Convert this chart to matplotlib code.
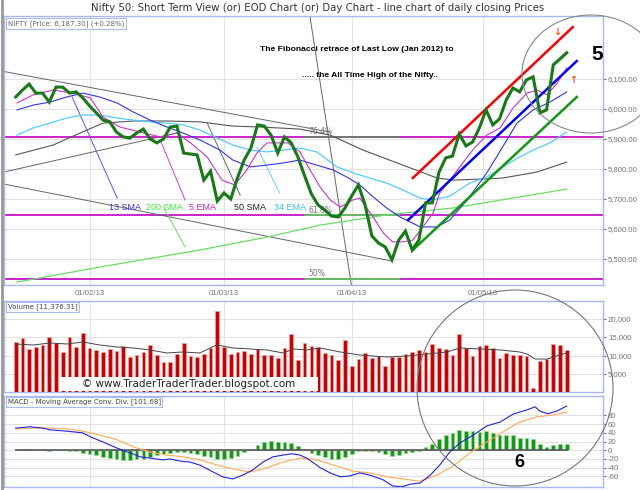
import matplotlib
matplotlib.use('Agg')
import matplotlib.pyplot as plt
from matplotlib.patches import Ellipse, Rectangle
from matplotlib.ticker import FixedLocator, FuncFormatter

# ---------------- data ----------------
close = [6040, 6063, 6083, 6053, 6053, 6023, 6073, 6073, 6053, 6057,
         6037, 6010, 5987, 5963, 5957, 5923, 5907, 5903, 5920, 5933,
         5900, 5887, 5900, 5940, 5943, 5853, 5850, 5847, 5763, 5793,
         5693, 5720, 5700, 5770, 5830, 5870, 5947, 5943, 5913, 5853,
         5907, 5887, 5840, 5777, 5717, 5680, 5663, 5643, 5640, 5670,
         5710, 5747, 5680, 5577, 5553, 5540, 5497, 5563, 5593, 5530,
         5563, 5687, 5687, 5790, 5837, 5843, 5917, 5877, 5890, 5937,
         5997, 5947, 5967, 6030, 6070, 6057, 6097, 6107, 5987, 5997,
         6147, 6167, 6187.3]

volume = [13730, 14810, 11760, 12380, 12840, 15080, 13300, 11030, 15080, 12300,
          16160, 12110, 11490, 11030, 11760, 11300, 12650, 9590, 10140, 11030,
          12840, 10140, 8240, 8240, 10320, 13380, 9950, 9680, 10490, 12110,
          22110, 12300, 10490, 10950, 11300, 10320, 11680, 10140, 10140, 9410,
          12110, 15730, 8780, 13380, 12480, 12300, 10590, 10140, 8780, 14190,
          7250, 9050, 10590, 9410, 9780, 7250, 9590, 9680, 10490, 11030,
          11490, 10860, 13200, 11940, 11760, 10140, 15730, 11940, 9780, 12650,
          12840, 11940, 9240, 10680, 10140, 10140, 9780, 1130, 8510, 8970,
          13030, 12840, 11490]

vol_ma_x = [0.0, 2.6, 5.1, 7.6, 10.0, 12.5, 15.1, 17.5, 20.0, 22.5, 24.9, 27.4,
            29.9, 32.3, 34.9, 37.4, 39.8, 41.3, 43.3, 45.3, 48.3, 51.2, 55.2,
            58.2, 61.2, 64.2, 66.1, 69.1, 72.1, 75.0, 76.1, 77.3, 79.1, 80.5, 82.0]
vol_ma = [13110, 12840, 13380, 13110, 13650, 12840, 12300, 12030, 11490, 10680, 10950, 10680,
          12840, 12030, 11760, 11490, 10680, 11760, 11490, 12030, 10950, 10140, 9590,
          9870, 10410, 10950, 12030, 11760, 11490, 10950, 10410, 9050, 9050, 9870, 10680]

macd_hist = [0, 2.3, 3.1, 0.8, 0, -1.5, 0, 0, -1.5, -1.5,
             -5.4, -7.7, -11.5, -15.3, -16.9, -19.2, -21.4, -23, -19.2, -19.2,
             -15.3, -11.5, -7.7, -6.1, -4.6, -4.6, -6.1, -7.7, -12.3, -15.3,
             -19.2, -19.2, -16.9, -12.3, -4.6, 2.3, 11.5, 19.9, 21.4, 19.2,
             19.2, 16.9, 9.2, 2.3, -5.4, -10, -15.3, -19.2, -19.2, -15.3,
             -9.2, -1.5, -1.5, -1.5, -4.6, -9.2, -13.8, -11.5, -6.1, -4.6,
             -2.3, 7.7, 13.8, 25.3, 34.5, 40.6, 46, 44.4, 44.4, 42.1,
             44.4, 39.8, 36, 36, 34.5, 29.1, 28.3, 26.8, 13.8, 7.7,
             11.5, 13.8, 13.8]

macd_x = [0.0, 2.1, 4.1, 5.1, 7.6, 10.0, 11.1, 13.0, 15.1, 17.0, 18.5, 20.0, 21.9, 23.0,
          24.5, 25.9, 27.4, 29.4, 30.8, 32.3, 33.8, 35.3, 36.8, 38.3, 39.8, 41.1, 42.3,
          43.3, 44.8, 45.3, 46.8, 48.3, 49.7, 51.2, 52.7, 54.7, 56.1, 57.5, 58.7, 60.2,
          61.7, 63.1, 64.6, 66.1, 68.1, 70.1, 72.1, 74.0, 76.1, 77.3, 78.0, 79.2, 80.5, 82.0]
macd_line = [51, 54, 51, 47, 44, 40, 31, 19, 5, -6, -15, -18, -22, -20,
             -25, -27, -34, -50, -61, -66, -57, -45, -27, -15, -11, -8, -11,
             -18, -34, -40, -52, -61, -59, -52, -57, -68, -82, -84, -78, -75,
             -57, -34, -4, 17, 35, 56, 65, 83, 93, 100, 90, 84, 90, 101.68]

sig_x = [0.0, 2.6, 5.1, 7.6, 10.0, 12.5, 15.1, 17.5, 20.0, 22.5, 24.9, 27.4, 30.0,
         32.3, 34.9, 37.4, 39.8, 42.3, 44.8, 50.2, 52.7, 55.2, 57.6, 60.2, 62.7,
         65.1, 67.6, 70.1, 72.5, 74.7, 77.6, 79.9, 82.0]
sig_line = [49, 51, 51, 49, 44, 35, 24, 8, -4, -11, -15, -22, -34,
            -43, -50, -40, -27, -18, -22, -48, -52, -61, -66, -71, -57,
            -36, -6, 19, 42, 63, 77, 81, 88]

ema5_x = [0.2, 2.6, 5.6, 8.5, 11.1, 13.0, 15.5, 18.5, 21.5, 24.0, 26.4, 28.5, 30.7, 32.6,
          34.4, 35.9, 37.4, 40.5, 42.3, 43.8, 45.3, 46.8, 48.3, 50.2, 51.2, 53.2, 54.7,
          56.1, 57.6, 59.1, 60.6, 62.1, 63.1, 64.6, 66.1, 68.0, 70.1, 72.1, 74.0, 76.1,
          77.6, 79.1, 80.6, 82.0]
ema5 = [6020, 6047, 6063, 6053, 6037, 5973, 5940, 5923, 5907, 5920, 5880, 5840, 5763, 5747,
        5797, 5853, 5887, 5887, 5857, 5797, 5740, 5697, 5673, 5697, 5703, 5640, 5587,
        5557, 5557, 5563, 5607, 5653, 5720, 5763, 5807, 5863, 5913, 5937, 6003, 6053,
        6063, 6047, 6087, 6137]

sma13_x = [0.2, 2.6, 5.1, 7.6, 10.0, 12.5, 15.1, 17.5, 20.0, 22.5, 24.9, 27.4, 30.4, 32.3,
           34.9, 37.4, 39.8, 42.3, 44.8, 47.2, 49.3, 51.2, 53.2, 55.2, 57.2, 60.2, 62.7,
           64.6, 67.2, 70.1, 72.1, 74.6, 77.0, 79.5, 82.0]
sma13 = [5997, 6013, 6023, 6040, 6053, 6040, 6020, 5990, 5963, 5940, 5920, 5897, 5863, 5830,
         5807, 5813, 5820, 5830, 5813, 5797, 5773, 5747, 5707, 5670, 5640, 5607, 5607,
         5630, 5697, 5787, 5860, 5953, 5997, 6023, 6057]

ema34_x = [0.2, 2.6, 5.1, 7.6, 10.0, 12.5, 15.1, 17.5, 20.0, 22.5, 24.9, 27.4, 30.0, 32.3,
           34.9, 37.4, 39.8, 42.3, 44.8, 47.8, 50.2, 52.7, 55.2, 57.6, 60.2, 62.1, 64.6,
           67.6, 70.1, 72.5, 75.0, 77.0, 79.5, 82.0]
ema34 = [5913, 5937, 5953, 5970, 5980, 5980, 5970, 5963, 5957, 5953, 5947, 5930, 5903, 5880,
         5863, 5857, 5863, 5870, 5857, 5807, 5787, 5770, 5753, 5730, 5703, 5697, 5710,
         5753, 5773, 5807, 5840, 5863, 5887, 5923]

sma50_x = [0.0, 5.6, 9.6, 13.0, 17.5, 22.5, 27.4, 32.3, 36.4, 42.3, 46.8, 51.7, 57.6,
           62.7, 65.1, 70.1, 72.5, 77.6, 82.0]
sma50 = [5847, 5880, 5920, 5953, 5960, 5960, 5957, 5943, 5940, 5933, 5913, 5863, 5813,
         5770, 5763, 5767, 5770, 5790, 5823]

sma200_x = [0.2, 12.5, 27.4, 37.4, 45.3, 55.2, 65.1, 75.0, 82.0]
sma200 = [5423, 5473, 5530, 5573, 5613, 5647, 5670, 5707, 5733]

fib_levels = [5907, 5645, 5433]
fib_names = ['76.4%', '61.8%', '50%']

date_pos = [11, 31, 50, 69.5]
date_labels = ['01/02/13', '01/03/13', '01/04/13', '01/05/13']

# drawn trend / channel lines: ([x0, x1], [y0, y1])
trend_gray = [([-1.74, 46.8], [6125, 5923]),
              ([-1.74, 24.0], [5790, 5920]),
              ([-1.74, 56.0], [5750, 5493]),
              ([43.8, 50.0], [6307, 5407])]
chan_red = ([59.1, 82.9], [5770, 6273])
chan_blue = ([58.4, 83.5], [5630, 6160])
chan_green = ([59.1, 83.5], [5530, 6040])

ma_labels = ['13 SMA', '200 SMA', '5 EMA', '50 SMA', '34 EMA']
ma_label_x = [16.2, 22.1, 27.8, 34.9, 40.8]
ma_label_colors = ['#3333ee', '#33ee33', '#cc22cc', '#222222', '#33bbff']
pointer_lines = [([8.4, 15.1], [6040, 5703], '#5555ff'),
                 ([22.0, 25.2], [5673, 5540], '#66dd66'),
                 ([21.5, 25.2], [5897, 5697], '#cc44cc'),
                 ([28.5, 33.4], [5953, 5713], '#666666'),
                 ([35.9, 39.3], [5873, 5720], '#66ccff')]

# ---------------- figure ----------------
W, H = 640, 490
fig = plt.figure(figsize=(6.4, 4.9), dpi=100)
fig.patch.set_facecolor('white')

def fr(x0, y0, x1, y1):
    return [x0 / W, 1 - y1 / H, (x1 - x0) / W, (y1 - y0) / H]

ax = fig.add_axes(fr(4, 16, 603, 285))
axv = fig.add_axes(fr(4, 301, 603, 392.5))
axm = fig.add_axes(fr(4, 396, 603, 487))

XL = (-1.74, 87.4)
idx = list(range(len(close)))

for a in (ax, axv, axm):
    a.set_xlim(*XL)
    for s in a.spines.values():
        s.set_color('#a8b8ee')
        s.set_linewidth(1)
    a.yaxis.tick_right()
    a.tick_params(axis='y', which='both', length=2, colors='#777777', labelsize=5.6, pad=1.5,
                  labelfontfamily='Liberation Sans')
    a.tick_params(axis='x', length=0, colors='#777777', labelsize=5.6,
                  labelfontfamily='Liberation Sans')
    a.xaxis.set_major_locator(FixedLocator(date_pos))
    a.grid(True, color='#e2e2e2', lw=0.8)
    a.set_axisbelow(True)

ax.set_xticklabels(date_labels)
axv.set_xticklabels([])
axm.set_xticklabels([])

# ---- main price panel ----
ax.set_ylim(5413.3, 6310)
ax.yaxis.set_major_locator(FixedLocator([5500, 5600, 5700, 5800, 5900, 6000, 6100]))
ax.yaxis.set_major_formatter(FuncFormatter(lambda v, p: f"{v:,.2f}"))

for lv in fib_levels:
    ax.axhline(lv, color='#cc22cc', lw=1.4, zorder=2)
ax.plot([43.1, 57.0], [fib_levels[0], fib_levels[0]], color='#777777', lw=1.4, zorder=2.1)
ax.plot([43.1, 57.0], [fib_levels[1], fib_levels[1]], color='#66bb66', lw=1.4, zorder=2.1)
ax.plot([43.1, 57.0], [fib_levels[2], fib_levels[2]], color='#66bb66', lw=1.4, zorder=2.1)
for lv, nm in zip(fib_levels, fib_names):
    ax.text(43.5, lv + 18, nm, color='#777777', fontsize=5.5, family='DejaVu Sans',
            va='center', ha='left', zorder=3)

for xs, ys in trend_gray:
    ax.plot(xs, ys, color='#666666', lw=0.7, zorder=2)
for xs, ys, c in pointer_lines:
    ax.plot(xs, ys, color=c, lw=0.7, zorder=2)

ax.plot(sma200_x, sma200, color='#66dd66', lw=0.9, zorder=3)
ax.plot(sma50_x, sma50, color='#555555', lw=0.8, zorder=3)
ax.plot(ema34_x, ema34, color='#55ccff', lw=0.9, zorder=3)
ax.plot(sma13_x, sma13, color='#3333ee', lw=0.8, zorder=3)
ax.plot(ema5_x, ema5, color='#cc33cc', lw=0.8, zorder=3)

ax.plot(*chan_red, color='#ff0000', lw=1.8, zorder=4)
ax.plot(*chan_blue, color='#0000ff', lw=1.8, zorder=4)
ax.plot(*chan_green, color='#119911', lw=1.8, zorder=4)

ax.plot(idx, close, color='#177a17', lw=2.2, zorder=5, solid_joinstyle='miter')

for t, x, c in zip(ma_labels, ma_label_x, ma_label_colors):
    ax.text(x, 5673, t, color=c, fontsize=6.5, family='Liberation Sans',
            ha='center', va='center', zorder=6)

ax.text(36.35, 6197, 'The Fibonacci retrace of Last Low (Jan 2012) to', fontsize=6.1,
        family='Liberation Sans', weight='bold', ha='left', va='center', zorder=6)
ax.text(42.6, 6113, '..... the All Time High of the Nifty..', fontsize=6.1,
        family='Liberation Sans', weight='bold', ha='left', va='center', zorder=6)

ax.text(80.6, 6257, '\u2193', color='#ff5511', fontsize=7, weight='bold', ha='center',
        va='center', zorder=6)
ax.text(82.9, 6097, '\u2191', color='#ff5511', fontsize=7, weight='bold', ha='center',
        va='center', zorder=6)
ax.text(86.6, 6180, '5', fontsize=15, weight='bold', family='Liberation Sans',
        ha='center', va='center', zorder=6, clip_on=False)

ax.text(0.006, 0.985, 'NIFTY [Price: 6,187.30] (+0.28%)', transform=ax.transAxes,
        fontsize=5, color='#666666', family='DejaVu Sans', ha='left', va='top', zorder=7,
        bbox=dict(boxstyle='square,pad=0.25', fc='white', ec='#aabbee', lw=0.8))

# ---- volume panel ----
axv.set_ylim(0, 24730)
axv.yaxis.set_major_locator(FixedLocator([5000, 10000, 15000, 20000]))
axv.yaxis.set_major_formatter(FuncFormatter(lambda v, p: f"{v:,.0f}"))
axv.bar(idx, volume, width=0.55, color='#cc0000', edgecolor='#f2a8a8', lw=0.4, zorder=3)
axv.plot(vol_ma_x, vol_ma, color='#444444', lw=0.7, zorder=4)
axv.add_patch(Rectangle((6.6, 400), 38.4, 3800, fc='white', ec='none', zorder=5))
axv.text(25.7, 2430, '\u00a9 www.TraderTraderTrader.blogspot.com', fontsize=7.5,
         family='DejaVu Sans', color='#222222', ha='center', va='center', zorder=6)
axv.text(0.006, 0.97, 'Volume [11,376.31]', transform=axv.transAxes,
         fontsize=5, color='#444444', family='DejaVu Sans', ha='left', va='top', zorder=7,
         bbox=dict(boxstyle='square,pad=0.25', fc='white', ec='#aabbee', lw=0.8))

# ---- MACD panel ----
axm.set_ylim(-84.4, 124.8)
axm.yaxis.set_major_locator(FixedLocator([-60, -40, -20, 0, 20, 40, 60, 80]))
axm.yaxis.set_major_formatter(FuncFormatter(lambda v, p: f"{v:.0f}"))
axm.bar(idx, macd_hist, width=0.55, color='#119911', edgecolor='#99dd99', lw=0.4, zorder=3)
axm.plot([0, len(close) - 1], [0, 0], color='#555555', lw=1.2, zorder=3.5)
axm.plot(sig_x, sig_line, color='#ffaa55', lw=0.8, zorder=4)
axm.plot(macd_x, macd_line, color='#2222dd', lw=0.8, zorder=4.5)
axm.text(74.9, -29.2, '6', fontsize=13, weight='bold', family='Liberation Sans',
         ha='center', va='center', zorder=6)
axm.text(0.006, 0.97, 'MACD - Moving Average Conv. Div. [101.68]', transform=axm.transAxes,
         fontsize=5, color='#444444', family='DejaVu Sans', ha='left', va='top', zorder=7,
         bbox=dict(boxstyle='square,pad=0.25', fc='white', ec='#aabbee', lw=0.8))

# ---- figure-level decorations ----
fig.text(318 / W, 1 - 8 / H,
         'Nifty 50: Short Term View (or) EOD Chart (or) Day Chart - line chart of daily closing Prices',
         fontsize=7.3, family='DejaVu Sans', color='#333333', ha='center', va='center')

fig.add_artist(Ellipse((591 / W, 1 - 74 / H), 138 / W, 118 / H, transform=fig.transFigure,
                       fill=False, ec='#888888', lw=0.8, zorder=10))
fig.add_artist(Ellipse((515 / W, 1 - 388 / H), 196 / W, 196 / H, transform=fig.transFigure,
                       fill=False, ec='#777777', lw=0.8, zorder=10))
fig.add_artist(plt.Line2D([1.5 / W, 1.5 / W], [0, 1], transform=fig.transFigure,
                          color='#999999', lw=2))

fig.savefig('out.png', dpi=100)
